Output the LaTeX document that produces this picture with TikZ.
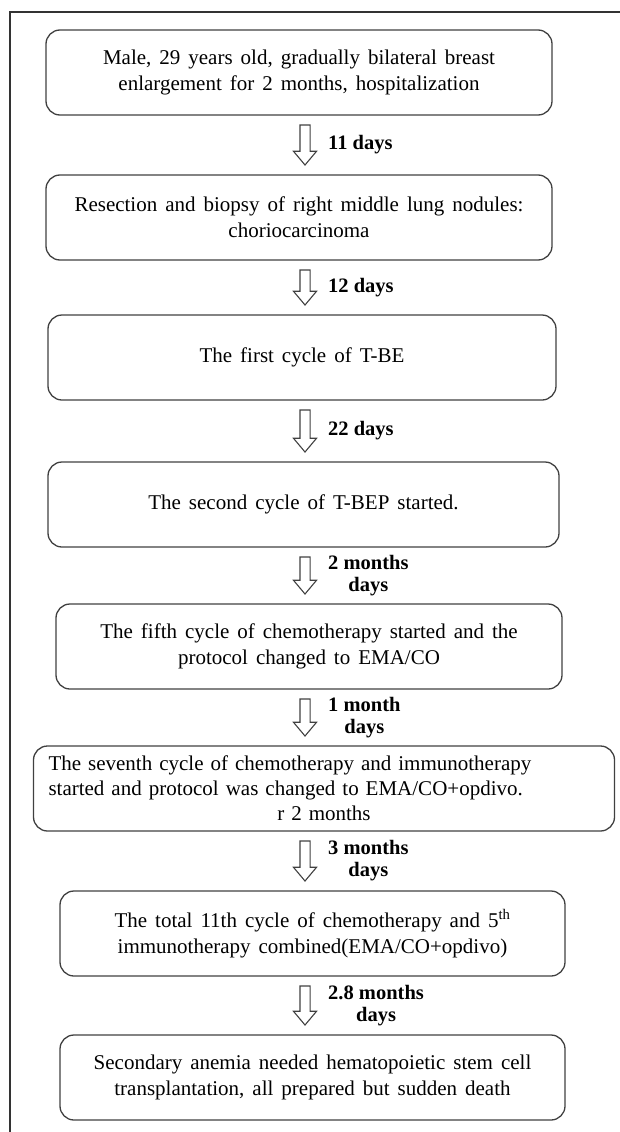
\documentclass[tikz,border=0pt]{standalone}
\usepackage{fontspec}
\setmainfont{Liberation Serif}
\usetikzlibrary{positioning,shapes.arrows,calc}
\newcommand\widewords{\spaceskip=0.38em plus 0.1em\relax}

\begin{document}
\begin{tikzpicture}[
    x=1pt, y=1pt,
    stage/.style={%
      draw=black!75,
      line width=1.3pt,
      rectangle,
      rounded corners=14pt,
      minimum height=85pt,
      align=center,
      inner sep=0pt,
      outer sep=0pt,
      font=\fontsize{21}{26}\selectfont\widewords,
    },
    flow/.style={%
      draw=black!75,
      line width=1.1pt,
      single arrow,
      shape border rotate=270,
      single arrow head extend=6.5pt,
      single arrow tip angle=80,
      inner sep=4.5pt,
      outer sep=0pt,
    },
    gap/.style={%
      anchor=west,
      align=center,
      inner sep=0pt,
      font=\fontsize{20.5}{22}\selectfont\bfseries,
    },
  ]
    \useasboundingbox (0,0) rectangle (620,-1132);
    \draw [line width=1.2pt, black!80] (620,-12) -- (10,-12) -- (10,-1132);
    \coordinate (axis) at (305,0);

    \node [stage, minimum width=506pt] (s1) at (299,-72.5)
      {Male, 29 years old, gradually bilateral breast\\enlargement for 2 months, hospitalization};
    \path (s1.south -| axis) ++(0,-10) node [flow, anchor=tail, minimum height=40pt] (a1) {};
    \node [stage, minimum width=506pt, below=10pt of a1.tip, xshift=-6pt] (s2)
      {Resection and biopsy of right middle lung nodules:\\choriocarcinoma};
    \path (s2.south -| axis) ++(0,-10) node [flow, anchor=tail, minimum height=35pt] (a2) {};
    \node [stage, minimum width=508pt, below=10pt of a2.tip, xshift=-3pt] (s3)
      {The first cycle of T-BE};
    \path (s3.south -| axis) ++(0,-10) node [flow, anchor=tail, minimum height=42pt] (a3) {};
    \node [stage, minimum width=511pt, below=10pt of a3.tip, xshift=-1.5pt] (s4)
      {The second cycle of T-BEP started.};
    \path (s4.south -| axis) ++(0,-10) node [flow, anchor=tail, minimum height=37pt] (a4) {};
    \node [stage, minimum width=506pt, below=10pt of a4.tip, xshift=4pt] (s5)
      {The fifth cycle of chemotherapy started and the\\protocol changed to EMA/CO};
    \path (s5.south -| axis) ++(0,-10) node [flow, anchor=tail, minimum height=37pt] (a5) {};
    \node [stage, minimum width=581pt, text width=551pt, align=left,
      font=\fontsize{21}{25}\selectfont\widewords,
      below=10pt of a5.tip, xshift=19pt] (s6)
      {The seventh cycle of chemotherapy and immunotherapy\\
       started and protocol was changed to EMA/CO+opdivo.\\
       \makebox[\linewidth]{r 2 months}};
    \path (s6.south -| axis) ++(0,-10) node [flow, anchor=tail, minimum height=40pt] (a6) {};
    \node [stage, minimum width=505pt, below=10pt of a6.tip, xshift=7.5pt] (s7)
      {The total 11th cycle of chemotherapy and 5\textsuperscript{th}\\immunotherapy combined(EMA/CO+opdivo)};
    \path (s7.south -| axis) ++(0,-10) node [flow, anchor=tail, minimum height=39pt] (a7) {};
    \node [stage, minimum width=505pt, below=10pt of a7.tip, xshift=7.5pt] (s8)
      {Secondary anemia needed hematopoietic stem cell\\transplantation, all prepared but sudden death};

    % time between stages
    \node [gap] (g1) at ($(a1.tail)!0.5!(a1.tip)+(23,0)$) {11 days};
    \node [gap] (g2) at ($(a2.tail)!0.5!(a2.tip)+(23,0)$) {12 days};
    \node [gap] (g3) at ($(a3.tail)!0.5!(a3.tip)+(23,0)$) {22 days};
    \node [gap] (g4) at ($(a4.tail)!0.5!(a4.tip)+(23,0)$) {2 months\\days};
    \node [gap] (g5) at ($(a5.tail)!0.5!(a5.tip)+(23,0)$) {1 month\\days};
    \node [gap] (g6) at ($(a6.tail)!0.5!(a6.tip)+(23,0)$) {3 months\\days};
    \node [gap] (g7) at ($(a7.tail)!0.5!(a7.tip)+(23,0)$) {2.8 months\\days};
\end{tikzpicture}
\end{document}
